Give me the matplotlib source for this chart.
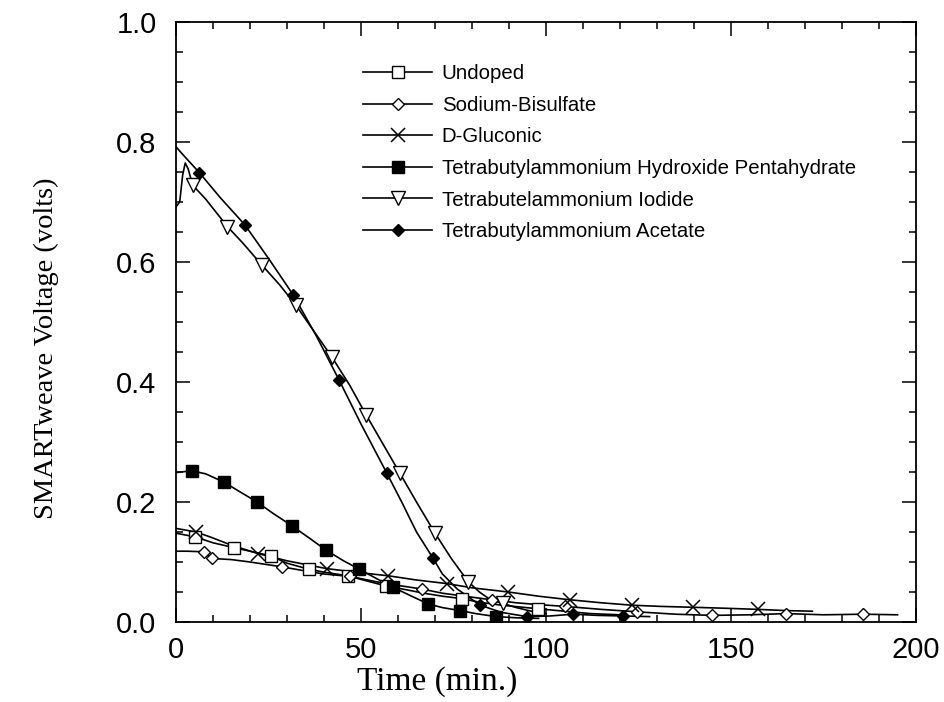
import matplotlib
matplotlib.use("Agg")
import matplotlib.pyplot as plt
from matplotlib.ticker import MultipleLocator

# ---------------- data ----------------
labels = ["Undoped", "Sodium-Bisulfate", "D-Gluconic",
          "Tetrabutylammonium Hydroxide Pentahydrate",
          "Tetrabutelammonium Iodide", "Tetrabutylammonium Acetate"]

# continuous traces
undoped_t = [0, 5.1, 10, 15.6, 20, 25.7, 30, 35.9, 40, 46.5, 50, 56.8, 62, 67, 72, 77.2, 82, 88, 93, 97.9, 105, 112, 120]
undoped_v = [0.148, 0.142, 0.132, 0.124, 0.118, 0.110, 0.098, 0.088, 0.083, 0.077, 0.071, 0.060, 0.054, 0.048, 0.043, 0.039, 0.033, 0.028, 0.025, 0.022, 0.018, 0.014, 0.012]

sodium_t = [0, 3, 7.5, 9.6, 15, 20, 28.6, 35, 40, 47, 55, 60, 66.4, 72, 78, 85.3, 92, 98, 105.1, 115, 124.5, 135, 144.8, 155, 165, 175, 185.8, 195]
sodium_v = [0.118, 0.118, 0.117, 0.106, 0.104, 0.100, 0.092, 0.085, 0.080, 0.076, 0.066, 0.061, 0.055, 0.048, 0.043, 0.037, 0.032, 0.029, 0.026, 0.021, 0.017, 0.013, 0.011, 0.012, 0.014, 0.012, 0.013, 0.012]

gluconic_t = [0, 5.5, 10, 15, 22.2, 30, 40.7, 50, 57.4, 65, 73.2, 80, 89.8, 98, 106.5, 115, 123.2, 131, 139.8, 148, 157.4, 165, 172]
gluconic_v = [0.156, 0.150, 0.140, 0.128, 0.114, 0.102, 0.089, 0.082, 0.077, 0.070, 0.064, 0.057, 0.050, 0.043, 0.037, 0.032, 0.028, 0.026, 0.0245, 0.023, 0.021, 0.019, 0.018]

hydroxide_t = [0, 4.2, 8, 13, 17, 21.9, 26, 31.4, 36, 40.5, 45, 49.5, 54, 58.6, 63, 68.2, 72, 76.8, 81, 86.5, 92, 98]
hydroxide_v = [0.249, 0.252, 0.247, 0.233, 0.218, 0.200, 0.182, 0.160, 0.140, 0.120, 0.103, 0.088, 0.073, 0.058, 0.045, 0.030, 0.024, 0.019, 0.014, 0.009, 0.007, 0.006]

iodide_t = [0, 1, 1.8, 2.5, 3.3, 4.5, 8, 13.9, 18, 23.2, 28, 32.4, 37, 42.1, 47, 51.4, 56, 60.5, 65, 70, 74.5, 79, 82, 85, 88.3, 92, 96, 100]
iodide_v = [0.692, 0.700, 0.745, 0.765, 0.755, 0.728, 0.705, 0.659, 0.632, 0.595, 0.562, 0.528, 0.487, 0.442, 0.394, 0.345, 0.296, 0.248, 0.200, 0.148, 0.105, 0.067, 0.050, 0.037, 0.031, 0.024, 0.018, 0.014]

acetate_t = [0, 2, 6.3, 12, 18.6, 25, 31.7, 38, 44.1, 50, 56.9, 61, 65, 69.4, 72, 76, 82.2, 88, 94.8, 101, 107.3, 114, 120.9, 128]
acetate_v = [0.792, 0.778, 0.749, 0.707, 0.662, 0.606, 0.545, 0.476, 0.403, 0.330, 0.249, 0.200, 0.150, 0.107, 0.080, 0.055, 0.028, 0.016, 0.009, 0.010, 0.013, 0.011, 0.010, 0.009]

# symbol positions
undoped_mt = [5.1, 15.6, 25.7, 35.9, 46.5, 56.8, 77.2, 97.9]
undoped_mv = [0.142, 0.124, 0.110, 0.088, 0.077, 0.060, 0.039, 0.022]
sodium_mt = [7.5, 9.6, 28.6, 47, 66.4, 85.3, 105.1, 124.5, 144.8, 165, 185.8]
sodium_mv = [0.117, 0.106, 0.092, 0.076, 0.055, 0.037, 0.026, 0.017, 0.011, 0.014, 0.013]
gluconic_mt = [5.5, 22.2, 40.7, 57.4, 73.2, 89.8, 106.5, 123.2, 139.8, 157.4]
gluconic_mv = [0.150, 0.114, 0.089, 0.077, 0.064, 0.050, 0.037, 0.028, 0.0245, 0.021]
hydroxide_mt = [4.2, 13, 21.9, 31.4, 40.5, 49.5, 58.6, 68.2, 76.8, 86.5]
hydroxide_mv = [0.252, 0.233, 0.200, 0.160, 0.120, 0.088, 0.058, 0.030, 0.019, 0.009]
iodide_mt = [4.5, 13.9, 23.2, 32.4, 42.1, 51.4, 60.5, 70, 79, 88.3]
iodide_mv = [0.728, 0.659, 0.595, 0.528, 0.442, 0.345, 0.248, 0.148, 0.067, 0.031]
acetate_mt = [6.3, 18.6, 31.7, 44.1, 56.9, 69.4, 82.2, 94.8, 107.3, 120.9]
acetate_mv = [0.749, 0.662, 0.545, 0.403, 0.249, 0.107, 0.028, 0.009, 0.013, 0.010]

x_ticks = [0, 50, 100, 150, 200]
y_ticks = [0.0, 0.2, 0.4, 0.6, 0.8, 1.0]

# ---------------- drawing ----------------
fig = plt.figure(figsize=(9.45, 7.02), dpi=100)
ax = fig.add_axes([176/945, 1-622/702, 740/945, 600/702])

styles = [
    dict(marker="s", mfc="white", ms=9),
    dict(marker="D", mfc="white", ms=6.5),
    dict(marker="x", mfc="none", ms=10, mew=1.1),
    dict(marker="s", mfc="black", ms=9),
    dict(marker="v", mfc="white", ms=10.5),
    dict(marker="D", mfc="black", ms=6.5),
]
series = [
    (undoped_t, undoped_v, undoped_mt, undoped_mv),
    (sodium_t, sodium_v, sodium_mt, sodium_mv),
    (gluconic_t, gluconic_v, gluconic_mt, gluconic_mv),
    (hydroxide_t, hydroxide_v, hydroxide_mt, hydroxide_mv),
    (iodide_t, iodide_v, iodide_mt, iodide_mv),
    (acetate_t, acetate_v, acetate_mt, acetate_mv),
]

handles = []
for (t, v, mt, mv), st, lab in zip(series, styles, labels):
    ax.plot(t, v, color="black", lw=1.2, zorder=2)
    ax.plot(mt, mv, ls="none", color="black", mec="black", zorder=3, **st)
    h, = ax.plot([], [], color="black", lw=1.2, mec="black", **st)
    h.set_label(lab)
    handles.append(h)

ax.set_xlim(0, 200)
ax.set_ylim(0, 1.0)
ax.xaxis.set_major_locator(MultipleLocator(50))
ax.xaxis.set_minor_locator(MultipleLocator(10))
ax.yaxis.set_major_locator(MultipleLocator(0.2))
ax.yaxis.set_minor_locator(MultipleLocator(0.05))
ax.set_xticks(x_ticks)
ax.set_yticks(y_ticks)
ax.set_xticklabels([str(v) for v in x_ticks])
ax.set_yticklabels([f"{v:.1f}" for v in y_ticks])
ax.tick_params(which="both", direction="in", top=True, right=True, width=1.1, color="black")
ax.tick_params(which="major", length=10, labelsize=21)
ax.tick_params(axis="x", which="major", pad=10)
ax.tick_params(axis="y", which="major", pad=14)
ax.tick_params(which="minor", length=5)
for lab in ax.get_xticklabels() + ax.get_yticklabels():
    lab.set_family("Liberation Sans")
for sp in ax.spines.values():
    sp.set_linewidth(1.3)

fig.text(437/945, 1-682/702, "Time (min.)", family="Liberation Serif", fontsize=24,
         ha="center", va="center")
fig.text(46/945, 1-348/702, "SMARTweave Voltage (volts)", family="Liberation Serif", fontsize=20.5,
         ha="center", va="center", rotation=90)

leg = ax.legend(handles=handles, loc="upper left", bbox_to_anchor=(363/945, 1-64/702),
                bbox_transform=fig.transFigure, frameon=False, borderpad=0, borderaxespad=0,
                handlelength=3.4, handletextpad=0.45, labelspacing=0.62, numpoints=1,
                prop={"family": "Liberation Sans", "size": 14.7})

fig.savefig("out.png", dpi=100)
